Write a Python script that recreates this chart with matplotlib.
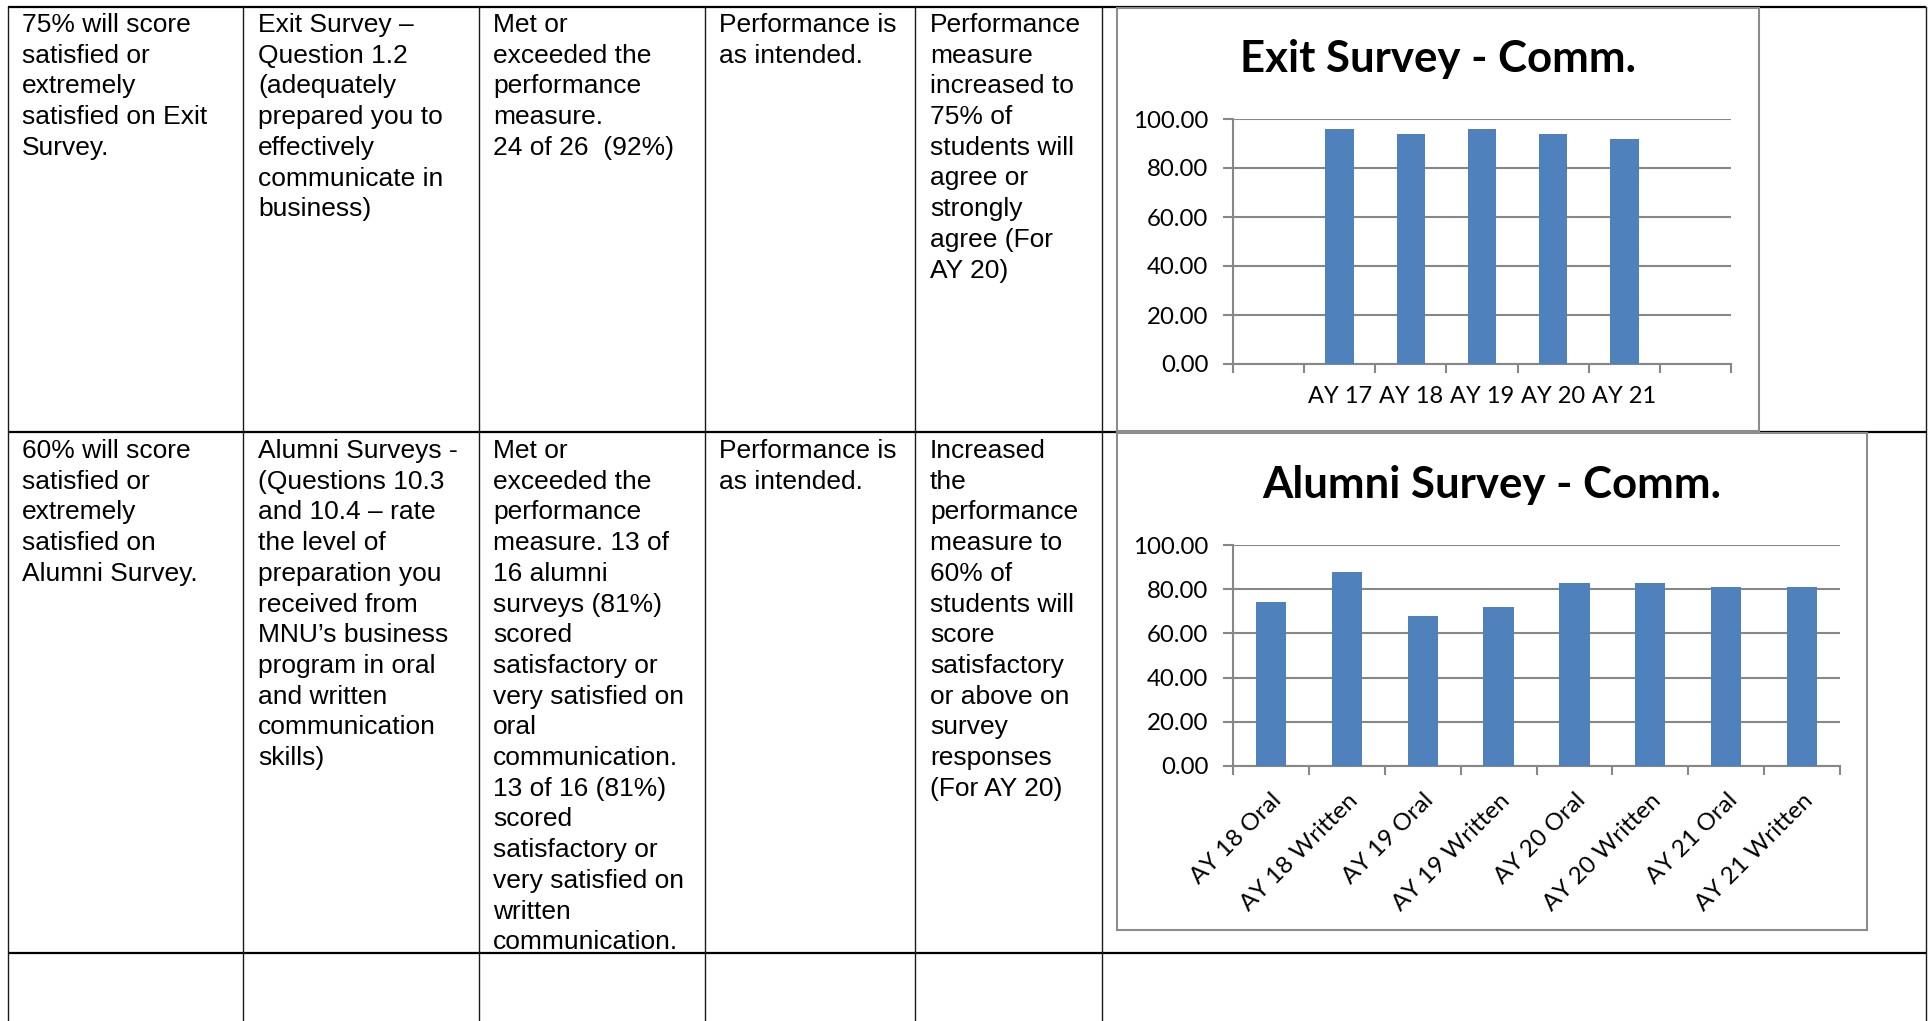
import numpy as np
import matplotlib.pyplot as plt
from matplotlib.patches import Rectangle

# chart data
exit_years = ['AY 17', 'AY 18', 'AY 19', 'AY 20', 'AY 21']
exit_values = [96, 94, 96, 94, 92]

alumni_labels = ['AY 18 Oral', 'AY 18 Written', 'AY 19 Oral', 'AY 19 Written',
                 'AY 20 Oral', 'AY 20 Written', 'AY 21 Oral', 'AY 21 Written']
alumni_values = [74, 88, 68, 72, 83, 83, 81, 81]

# table text, one list of lines per cell
row1 = [
    ["75% will score", "satisfied or", "extremely", "satisfied on Exit", "Survey."],
    ["Exit Survey –", "Question 1.2", "(adequately", "prepared you to", "effectively",
     "communicate in", "business)"],
    ["Met or", "exceeded the", "performance", "measure.", "24 of 26  (92%)"],
    ["Performance is", "as intended."],
    ["Performance", "measure", "increased to", "75% of", "students will", "agree or",
     "strongly", "agree (For", "AY 20)"],
]
row2 = [
    ["60% will score", "satisfied or", "extremely", "satisfied on", "Alumni Survey."],
    ["Alumni Surveys -", "(Questions 10.3", "and 10.4 – rate", "the level of",
     "preparation you", "received from", "MNU’s business", "program in oral",
     "and written", "communication", "skills)"],
    ["Met or", "exceeded the", "performance", "measure. 13 of", "16 alumni",
     "surveys (81%)", "scored", "satisfactory or", "very satisfied on", "oral",
     "communication.", "13 of 16 (81%)", "scored", "satisfactory or",
     "very satisfied on", "written", "communication."],
    ["Performance is", "as intended."],
    ["Increased", "the", "performance", "measure to", "60% of", "students will",
     "score", "satisfactory", "or above on", "survey", "responses", "(For AY 20)"],
]

W, H = 1933, 1021
BLUE = '#4F81BD'
GRAY = '#878787'
CHART_FONT = 'Lato'

fig = plt.figure(figsize=(W / 100, H / 100), dpi=100)
bg = fig.add_axes([0, 0, 1, 1])
bg.set_xlim(0, W)
bg.set_ylim(H, 0)
bg.axis('off')

# table grid
for y in [7, 432, 953]:
    bg.plot([8, 1926], [y, y], color='black', lw=1.6, solid_capstyle='butt')
for x in [8, 243, 479, 705, 915, 1102, 1926]:
    bg.plot([x, x], [7, H], color='#1a1a1a', lw=1.0)

# cell text
text_x = [22, 258, 493, 719, 930]
pitch = 30.7
for first, row in [(32, row1), (458, row2)]:
    for x, lines in zip(text_x, row):
        for i, line in enumerate(lines):
            bg.text(x, first + i * pitch, line, fontsize=19, va='baseline',
                    family='Liberation Sans', color='black')

# chart frames
bg.add_patch(Rectangle((1117, 8), 1759 - 1117, 431 - 8, facecolor='white',
                       edgecolor='#8c8c8c', lw=1.5, zorder=5))
bg.add_patch(Rectangle((1117, 433), 1867 - 1117, 930 - 433, facecolor='white',
                       edgecolor='#8c8c8c', lw=1.5, zorder=5))
bg.text(1438, 72, 'Exit Survey - Comm.', fontsize=31.5, fontweight='bold',
        family=CHART_FONT, ha='center', va='baseline', zorder=6)
bg.text(1492, 498, 'Alumni Survey - Comm.', fontsize=31.5, fontweight='bold',
        family=CHART_FONT, ha='center', va='baseline', zorder=6)


def px_axes(l, t, r, b):
    return fig.add_axes([l / W, 1 - b / H, (r - l) / W, (b - t) / H])


def style(ax, n):
    ax.set_xlim(-0.5, n - 0.5)
    ax.set_ylim(0, 100)
    ax.set_yticks(np.arange(0, 101, 20))
    ax.set_yticklabels(['%.2f' % v for v in np.arange(0, 101, 20)],
                       family=CHART_FONT, fontsize=17.3)
    ax.set_xticks(np.arange(n + 1) - 0.5)
    ax.set_xticklabels([])
    ax.yaxis.grid(True, color=GRAY, lw=1.5)
    ax.set_axisbelow(True)
    for s in ['top', 'right']:
        ax.spines[s].set_visible(False)
    for s in ['left', 'bottom']:
        ax.spines[s].set_color(GRAY)
        ax.spines[s].set_linewidth(1.5)
    ax.tick_params(axis='y', length=7.2, width=1.5, color=GRAY, pad=10.5)
    ax.tick_params(axis='x', which='major', length=6.5, width=1.5, color=GRAY)
    ax.tick_params(axis='x', which='minor', length=0)
    ax.patch.set_alpha(0)


ax1 = px_axes(1233, 119, 1731, 364)
ax1.set_zorder(10)
pos1 = np.arange(len(exit_years)) + 1
ax1.bar(pos1, exit_values, width=0.4, color=BLUE, zorder=3)
style(ax1, 7)
ax1.set_xticks(pos1, minor=True)
ax1.set_xticklabels(exit_years, minor=True, family=CHART_FONT, fontsize=17)
ax1.tick_params(axis='x', which='minor', pad=16)

ax2 = px_axes(1233, 545, 1840, 766)
ax2.set_zorder(10)
pos2 = np.arange(len(alumni_labels))
ax2.bar(pos2, alumni_values, width=0.4, color=BLUE, zorder=3)
style(ax2, len(alumni_labels))
ax2.set_xticks(pos2, minor=True)
ax2.set_xticklabels(alumni_labels, minor=True, family=CHART_FONT, fontsize=17.5,
                    rotation=45, ha='right', va='top', rotation_mode='anchor')
ax2.tick_params(axis='x', which='minor', pad=17)

fig.savefig('out.png', dpi=100)
